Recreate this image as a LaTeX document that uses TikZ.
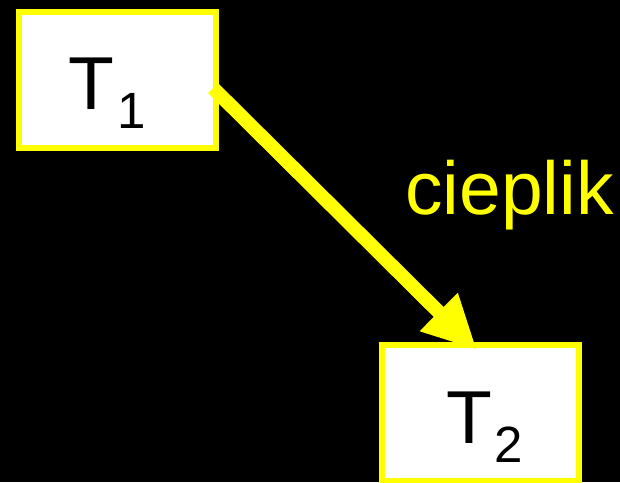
\documentclass[tikz,border=0pt]{standalone}
\usepackage{fontspec}
\setmainfont{Liberation Sans}
\usetikzlibrary{arrows.meta}
\definecolor{yel}{RGB}{255,255,0}
\tikzset{
  tbox/.style={draw=yel, fill=white, line width=6pt, minimum width=197pt, minimum height=136pt, inner sep=0pt},
  tlabel/.style={anchor=base west, inner sep=0pt, text=black, font=\fontsize{75}{75}\selectfont},
  heat/.style={draw=yel, line width=14pt, -{Triangle[length=54pt, width=50pt]}}
}
\newcommand{\subnum}[1]{\raisebox{-19pt}{\fontsize{51}{51}\selectfont #1}}
\begin{document}
\begin{tikzpicture}[x=1pt,y=-1pt]
\fill[black] (0,0) rectangle (620,482);
\useasboundingbox (0,0) rectangle (620,482);
\node[tbox] (T1) at (117.5,80) {};
\node[tbox] (T2) at (480.5,413) {};
\node[tlabel] (L1) at (68,109) {T\kern3pt\subnum{1}};
\node[tlabel] (L2) at (446,443) {T\kern2pt\subnum{2}};
\draw[heat] ([xshift=-6pt,yshift=-8pt]T1.east) -- ([xshift=-3.5pt,yshift=-8pt]T2.north);
\node[anchor=base west, inner sep=0pt, text=yel, font=\fontsize{75}{75}\selectfont] (c) at (405,214) {cieplik};
\end{tikzpicture}
\end{document}
